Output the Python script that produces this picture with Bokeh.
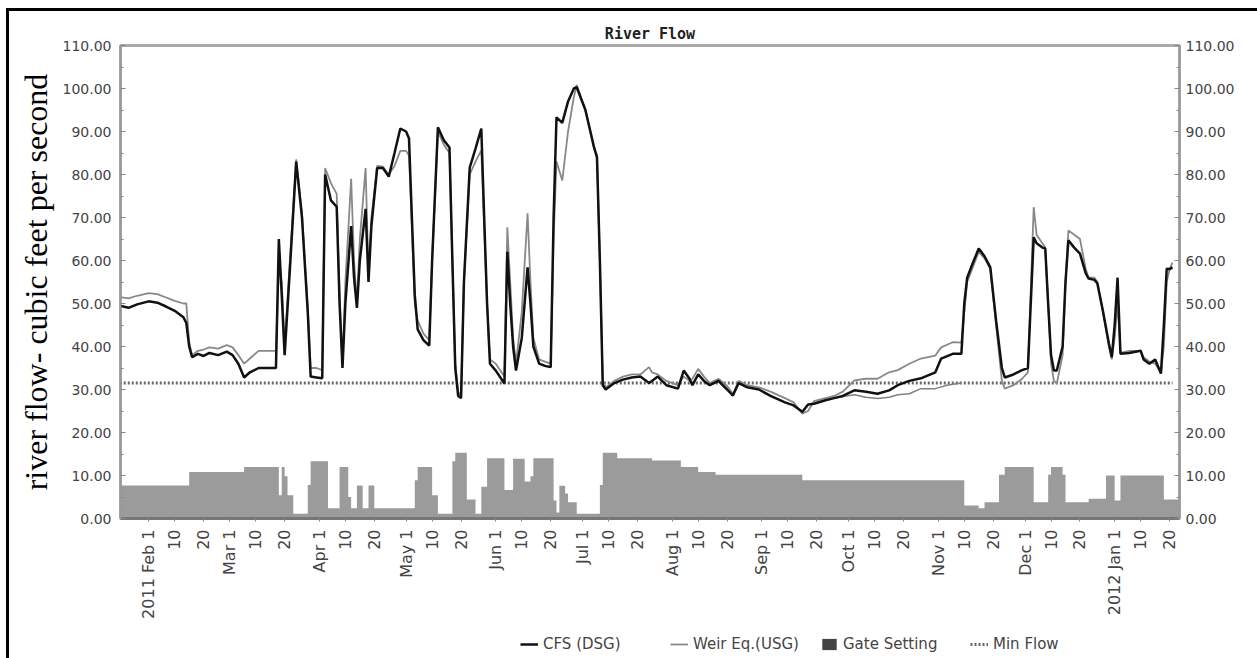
from datetime import datetime
import math
import pandas as pd
from bokeh.plotting import figure
from bokeh.layouts import column
from bokeh.models import (Range1d, LinearAxis, FixedTicker, NumeralTickFormatter,
                          Legend, LegendItem, ColumnDataSource)
from bokeh.embed import file_html
from bokeh.resources import INLINE

# ---------------- data ----------------
flow_dates = [
    "2011-01-22", "2011-01-25", "2011-01-28", "2011-02-01", "2011-02-04", "2011-02-07",
    "2011-02-10", "2011-02-13", "2011-02-14", "2011-02-15", "2011-02-16", "2011-02-18",
    "2011-02-20", "2011-02-22", "2011-02-25", "2011-02-28", "2011-03-02", "2011-03-04",
    "2011-03-06", "2011-03-08", "2011-03-11", "2011-03-14", "2011-03-17", "2011-03-18",
    "2011-03-19", "2011-03-20", "2011-03-22", "2011-03-24", "2011-03-26", "2011-03-28",
    "2011-03-29", "2011-03-31", "2011-04-02", "2011-04-03", "2011-04-05", "2011-04-07",
    "2011-04-08", "2011-04-09", "2011-04-10", "2011-04-12", "2011-04-13", "2011-04-14",
    "2011-04-15", "2011-04-17", "2011-04-18", "2011-04-19", "2011-04-21", "2011-04-23",
    "2011-04-25", "2011-04-27", "2011-04-29", "2011-05-01", "2011-05-02", "2011-05-03",
    "2011-05-04", "2011-05-05", "2011-05-07", "2011-05-09", "2011-05-10", "2011-05-12",
    "2011-05-14", "2011-05-16", "2011-05-17", "2011-05-18", "2011-05-19", "2011-05-20",
    "2011-05-21", "2011-05-23", "2011-05-25", "2011-05-27", "2011-05-28", "2011-05-29",
    "2011-05-30", "2011-06-01", "2011-06-04", "2011-06-05", "2011-06-06", "2011-06-07",
    "2011-06-08", "2011-06-10", "2011-06-12", "2011-06-13", "2011-06-14", "2011-06-16",
    "2011-06-18", "2011-06-20", "2011-06-21", "2011-06-22", "2011-06-24", "2011-06-26",
    "2011-06-28", "2011-06-29", "2011-07-02", "2011-07-05", "2011-07-06", "2011-07-07",
    "2011-07-08", "2011-07-09", "2011-07-12", "2011-07-15", "2011-07-18", "2011-07-21",
    "2011-07-24", "2011-07-25", "2011-07-27", "2011-07-30", "2011-08-03", "2011-08-05",
    "2011-08-07", "2011-08-08", "2011-08-10", "2011-08-12", "2011-08-14", "2011-08-17",
    "2011-08-20", "2011-08-22", "2011-08-24", "2011-08-27", "2011-08-31", "2011-09-04",
    "2011-09-09", "2011-09-12", "2011-09-15", "2011-09-17", "2011-09-19", "2011-09-23",
    "2011-09-26", "2011-09-29", "2011-10-03", "2011-10-07", "2011-10-11", "2011-10-15",
    "2011-10-18", "2011-10-22", "2011-10-26", "2011-10-31", "2011-11-02", "2011-11-06",
    "2011-11-09", "2011-11-10", "2011-11-11", "2011-11-13", "2011-11-15", "2011-11-17",
    "2011-11-19", "2011-11-21", "2011-11-23", "2011-11-24", "2011-11-27", "2011-11-30",
    "2011-12-02", "2011-12-04", "2011-12-05", "2011-12-07", "2011-12-08", "2011-12-09",
    "2011-12-10", "2011-12-11", "2011-12-12", "2011-12-14", "2011-12-15", "2011-12-16",
    "2011-12-18", "2011-12-20", "2011-12-22", "2011-12-23", "2011-12-25", "2011-12-26",
    "2011-12-28", "2011-12-30", "2011-12-31", "2012-01-01", "2012-01-02", "2012-01-03",
    "2012-01-06", "2012-01-10", "2012-01-11", "2012-01-13", "2012-01-15", "2012-01-17",
    "2012-01-18", "2012-01-19", "2012-01-20", "2012-01-21",
]

cfs_dsg = [
    49.5, 49.0, 49.8, 50.5, 50.2, 49.3,
    48.3, 46.8, 45.5, 40.0, 37.5, 38.3,
    37.8, 38.5, 38.0, 38.8, 38.0, 36.0,
    32.8, 34.0, 35.0, 35.0, 35.0, 65.0,
    52.0, 38.0, 60.0, 83.0, 70.0, 48.0,
    33.0, 32.8, 32.6, 80.0, 74.0, 72.5,
    50.0, 35.0, 50.0, 68.0, 56.0, 49.0,
    60.0, 72.0, 55.0, 68.0, 81.5, 81.5,
    79.5, 85.0, 90.7, 90.0, 88.4, 70.0,
    52.0, 44.0, 41.5, 40.2, 60.0, 91.0,
    88.0, 86.3, 60.0, 35.0, 28.5, 28.0,
    55.0, 81.6, 86.0, 90.7, 70.0, 50.0,
    36.0, 34.4, 31.4, 62.0, 50.0, 40.0,
    34.4, 42.0, 58.4, 50.0, 40.0, 36.0,
    35.5, 35.2, 70.0, 93.3, 92.0, 97.0,
    100.0, 100.3, 95.0, 86.3, 84.0, 60.0,
    31.0, 30.0, 31.5, 32.3, 32.8, 33.0,
    31.5, 32.0, 33.0, 31.0, 30.2, 34.4,
    32.5, 31.0, 33.5, 32.0, 31.0, 32.0,
    30.0, 28.6, 31.5, 30.5, 30.0, 28.5,
    27.0, 26.3, 24.8, 26.5, 26.7, 27.5,
    28.0, 28.5, 29.8, 29.5, 29.0, 29.8,
    31.0, 32.0, 32.6, 34.0, 37.2, 38.3,
    38.3, 50.0, 56.0, 59.5, 62.8, 61.0,
    58.4, 46.0, 35.0, 32.8, 33.5, 34.5,
    35.0, 65.4, 64.0, 63.0, 62.8, 50.0,
    38.0, 34.4, 34.4, 40.0, 55.0, 64.7,
    63.0, 61.6, 57.0, 55.8, 55.5, 54.7,
    48.0, 40.7, 37.5, 45.0, 56.0, 38.3,
    38.5, 39.0, 37.0, 36.0, 37.0, 33.7,
    45.0, 58.1, 58.0, 58.4,
]

weir_usg = [
    51.5, 51.2, 51.8, 52.4, 52.2, 51.4,
    50.6, 50.0, 50.0, 41.0, 38.0, 39.0,
    39.3, 39.8, 39.5, 40.3, 39.8, 38.0,
    36.0, 37.2, 39.0, 39.0, 39.0, 58.0,
    55.0, 40.0, 62.0, 83.5, 71.0, 49.0,
    35.0, 35.0, 34.5, 81.5, 78.0, 75.5,
    52.0, 36.0, 55.0, 79.0, 60.0, 50.0,
    65.0, 81.5, 57.0, 70.0, 82.0, 81.8,
    80.0, 82.0, 85.5, 85.5, 84.4, 68.0,
    50.0, 46.0, 43.0, 41.5, 60.0, 90.0,
    87.0, 85.0, 60.0, 36.0, 29.5, 28.5,
    55.0, 80.0, 83.0, 85.6, 68.0, 50.0,
    37.0, 36.0, 33.0, 67.7, 55.0, 42.0,
    36.0, 48.0, 71.0, 55.0, 42.0, 37.0,
    36.5, 36.0, 65.0, 83.0, 78.6, 90.0,
    98.0, 100.8, 95.0, 86.0, 84.5, 60.0,
    32.0, 30.5, 32.0, 33.0, 33.5, 33.5,
    35.2, 34.0, 33.5, 32.0, 31.0, 33.0,
    32.0, 32.5, 34.8, 33.0, 31.5, 32.5,
    30.8, 29.0, 32.0, 31.0, 30.5, 29.5,
    28.0, 27.0, 24.4, 25.0, 27.3, 28.0,
    28.5, 29.5, 32.1, 32.5, 32.5, 34.0,
    34.5, 36.0, 37.2, 37.9, 39.8, 41.0,
    40.9, 48.0, 55.0, 58.5, 62.0, 60.5,
    58.0, 45.0, 32.0, 30.2, 31.0, 32.5,
    34.0, 72.4, 66.0, 64.0, 63.0, 50.0,
    36.0, 32.0, 31.4, 38.0, 55.0, 67.0,
    66.0, 65.0, 58.0, 56.0, 56.0, 55.0,
    48.0, 40.0, 37.0, 42.0, 50.0, 38.5,
    39.0, 39.0, 37.5, 36.5, 36.0, 34.0,
    40.0, 55.0, 58.0, 59.5,
]

# third, unlabelled trace visible in Oct-Nov
extra_dates = ["2011-09-26", "2011-10-03", "2011-10-07", "2011-10-11", "2011-10-15",
               "2011-10-18", "2011-10-22", "2011-10-26", "2011-10-31", "2011-11-04",
               "2011-11-09"]
extra_values = [28.0, 28.8, 28.2, 27.9, 28.2, 28.8, 29.0, 30.2, 30.2, 31.0, 31.5]

gate_dates = [
    "2011-01-22", "2011-02-15", "2011-03-06", "2011-03-18", "2011-03-19", "2011-03-20",
    "2011-03-21", "2011-03-23", "2011-03-28", "2011-03-29", "2011-04-04", "2011-04-08",
    "2011-04-11", "2011-04-12", "2011-04-14", "2011-04-16", "2011-04-18", "2011-04-20",
    "2011-05-04", "2011-05-05", "2011-05-10", "2011-05-12", "2011-05-17", "2011-05-18",
    "2011-05-22", "2011-05-25", "2011-05-27", "2011-05-29", "2011-06-04", "2011-06-07",
    "2011-06-11", "2011-06-13", "2011-06-14", "2011-06-21", "2011-06-22", "2011-06-23",
    "2011-06-25", "2011-06-26", "2011-06-29", "2011-07-07", "2011-07-08", "2011-07-13",
    "2011-07-25", "2011-08-04", "2011-08-10", "2011-08-16", "2011-09-15", "2011-11-10",
    "2011-11-15", "2011-11-17", "2011-11-22", "2011-11-24", "2011-12-04", "2011-12-09",
    "2011-12-10", "2011-12-14", "2011-12-15", "2011-12-23", "2011-12-29", "2012-01-01",
    "2012-01-03", "2012-01-18", "2012-01-24",
]
gate_setting = [
    7.7, 10.8, 12.0, 5.4, 12.0, 9.8,
    5.4, 1.1, 7.8, 13.3, 2.4, 12.0,
    5.0, 2.4, 7.7, 2.4, 7.7, 2.4,
    8.9, 12.0, 5.4, 1.1, 13.3, 15.3,
    4.4, 1.1, 7.4, 14.0, 6.6, 13.9,
    8.6, 9.8, 14.0, 4.2, 1.4, 7.6,
    5.8, 3.8, 1.1, 7.8, 15.3, 14.0,
    13.5, 12.0, 10.8, 10.2, 8.9, 3.0,
    2.4, 3.8, 10.2, 12.0, 3.8, 10.2,
    12.0, 10.2, 3.8, 4.6, 10.0, 4.2,
    10.0, 4.4, 4.4,
]

min_flow_dates = ["2011-01-22", "2012-01-21"]
min_flow_values = [31.5, 31.5]

tick_dates = [
    "2011-02-01", "2011-02-10", "2011-02-20", "2011-03-01", "2011-03-10", "2011-03-20",
    "2011-04-01", "2011-04-10", "2011-04-20", "2011-05-01", "2011-05-10", "2011-05-20",
    "2011-06-01", "2011-06-10", "2011-06-20", "2011-07-01", "2011-07-10", "2011-07-20",
    "2011-08-01", "2011-08-10", "2011-08-20", "2011-09-01", "2011-09-10", "2011-09-20",
    "2011-10-01", "2011-10-10", "2011-10-20", "2011-11-01", "2011-11-10", "2011-11-20",
    "2011-12-01", "2011-12-10", "2011-12-20", "2012-01-01", "2012-01-10", "2012-01-20",
]
tick_labels = [
    "2011 Feb 1", "10", "20", "Mar 1", "10", "20",
    "Apr 1", "10", "20", "May 1", "10", "20",
    "Jun 1", "10", "20", "Jul 1", "10", "20",
    "Aug 1", "10", "20", "Sep 1", "10", "20",
    "Oct 1", "10", "20", "Nov 1", "10", "20",
    "Dec 1", "10", "20", "2012 Jan 1", "10", "20",
]

y_ticks = [0, 10, 20, 30, 40, 50, 60, 70, 80, 90, 100, 110]
y_minor_ticks = [5, 15, 25, 35, 45, 55, 65, 75, 85, 95, 105]

# ---------------- styles ----------------
TICK_FONT = "DejaVu Sans"
TEXT_COL = "#444444"
CFS_STYLE = dict(line_color="#111111", line_width=2.5)
WEIR_STYLE = dict(line_color="#888888", line_width=1.8)
MIN_STYLE = dict(line_color="#666666", line_width=3, line_dash="2 2")

flow_src = ColumnDataSource(dict(date=pd.to_datetime(flow_dates), cfs=cfs_dsg, weir=weir_usg))
extra_src = ColumnDataSource(dict(date=pd.to_datetime(extra_dates), v=extra_values))
gate_src = ColumnDataSource(dict(date=pd.to_datetime(gate_dates), gate=gate_setting))
min_src = ColumnDataSource(dict(date=pd.to_datetime(min_flow_dates), v=min_flow_values))

x_rng = Range1d(datetime(2011, 1, 22, 6), datetime(2012, 1, 23, 10))

# ---------------- main figure ----------------
p = figure(
    frame_width=1059, frame_height=473,
    x_axis_type="datetime",
    x_range=x_rng,
    y_range=Range1d(0, 110),
    output_backend="svg", toolbar_location=None,
    min_border_left=120, min_border_right=78, min_border_top=45, min_border_bottom=110,
    title="River Flow",
)
p.styles = {"box-shadow": "inset 6px 8px 0 0 #ffffff, inset 9px 11px 0 0 #000000"}
p.border_fill_color = None
p.background_fill_color = "white"
p.outline_line_color = "#aaaaaa"
p.outline_line_width = 3
p.xgrid.visible = False
p.ygrid.visible = False

p.title.align = "center"
p.title.text_font = "DejaVu Sans Mono"
p.title.text_font_style = "bold"
p.title.text_font_size = "15px"
p.title.text_color = "#222222"
p.title.standoff = 6

p.varea_step(x="date", y1=0, y2="gate", step_mode="after", source=gate_src,
             fill_color="#9b9b9b")
p.line("date", "v", source=min_src, **MIN_STYLE)
p.line("date", "v", source=extra_src, line_color="#808080", line_width=1.5)
p.line("date", "weir", source=flow_src, **WEIR_STYLE)
p.line("date", "cfs", source=flow_src, **CFS_STYLE)

tick_ms = [pd.Timestamp(d).value / 1e6 for d in tick_dates]
xa = p.xaxis[0]
xa.ticker = FixedTicker(ticks=tick_ms, minor_ticks=[])
xa.major_label_overrides = {t: lab for t, lab in zip(tick_ms, tick_labels)}
xa.major_label_orientation = math.pi / 2
xa.major_label_text_font = TICK_FONT
xa.major_label_text_font_size = "16px"
xa.major_label_text_color = TEXT_COL
xa.major_label_standoff = 8
xa.axis_line_color = "#777777"
xa.axis_line_width = 3
xa.major_tick_in = 0
xa.major_tick_out = 3
xa.major_tick_line_color = "#888888"
xa.minor_tick_line_color = None

ya = p.yaxis[0]
ya.ticker = FixedTicker(ticks=y_ticks, minor_ticks=y_minor_ticks)
ya.formatter = NumeralTickFormatter(format="0.00")
ya.axis_label = "river flow- cubic feet per second"
ya.axis_label_text_font = "Liberation Serif"
ya.axis_label_text_font_size = "32px"
ya.axis_label_text_font_style = "normal"
ya.axis_label_text_color = "#000000"
ya.axis_label_standoff = 6

ra = LinearAxis(ticker=FixedTicker(ticks=y_ticks, minor_ticks=y_minor_ticks),
                formatter=NumeralTickFormatter(format="0.00"))
p.add_layout(ra, "right")

for ax in (ya, ra):
    ax.major_label_text_font = TICK_FONT
    ax.major_label_text_font_size = "14px"
    ax.major_label_text_color = TEXT_COL
    ax.axis_line_color = "#999999"
    ax.axis_line_width = 2
    ax.major_tick_in = 5
    ax.major_tick_out = 0
    ax.minor_tick_in = 3
    ax.minor_tick_out = 0
    ax.major_tick_line_color = "#888888"
    ax.minor_tick_line_color = "#888888"
ya.major_label_standoff = 9
ra.major_label_standoff = 6

# ---------------- legend strip (separate figure below the chart) ----------------
q = figure(
    width=1257, height=30,
    x_range=x_rng, y_range=Range1d(1000, 1001),
    x_axis_type="datetime",
    x_axis_location=None, y_axis_location=None,
    output_backend="svg", toolbar_location=None,
    min_border=0,
)
q.styles = {"box-shadow": "inset 6px 0 0 0 #ffffff, inset 9px 0 0 0 #000000"}
q.border_fill_color = None
q.background_fill_color = None
q.outline_line_color = None
q.xgrid.visible = False
q.ygrid.visible = False

# legend renderers: same data and styles; values fall outside this strip's range
l_cfs = q.line("date", "cfs", source=flow_src, **CFS_STYLE)
l_weir = q.line("date", "weir", source=flow_src, **WEIR_STYLE)
l_gate = q.varea(x="date", y1="gate", y2="gate", source=gate_src, fill_color="#444444")
l_min = q.line("date", "v", source=min_src, **MIN_STYLE)

legend = Legend(
    items=[
        LegendItem(label="CFS (DSG)", renderers=[l_cfs]),
        LegendItem(label="Weir Eq.(USG)", renderers=[l_weir]),
        LegendItem(label="Gate Setting", renderers=[l_gate]),
        LegendItem(label="Min Flow", renderers=[l_min]),
    ],
    orientation="horizontal",
    location=(400, 5),
    border_line_color=None,
    background_fill_alpha=0,
    padding=0, margin=0, spacing=0,
    glyph_width=18, glyph_height=14, label_standoff=5, label_width=127,
    label_text_font=TICK_FONT, label_text_font_size="15px", label_text_color=TEXT_COL,
)
q.add_layout(legend, "center")

layout = column(p, q, spacing=0)
open("out.html", "w").write(file_html(layout, INLINE))
